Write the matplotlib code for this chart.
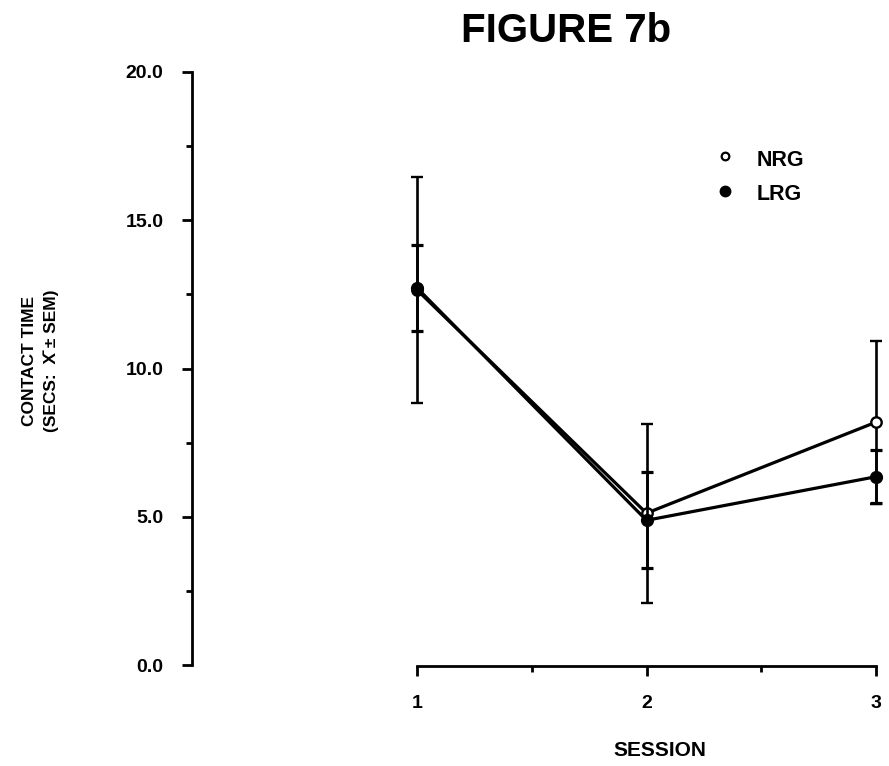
import matplotlib
matplotlib.use("Agg")
import matplotlib.pyplot as plt
from matplotlib.lines import Line2D

# ---- data ----
sessions = [1, 2, 3]
nrg_mean = [12.65, 5.12, 8.19]
nrg_sem = [3.82, 3.02, 2.75]
lrg_mean = [12.72, 4.88, 6.35]
lrg_sem = [1.45, 1.62, 0.90]
x_ticks = [1, 2, 3]
x_minor = [1.5, 2.5]
y_ticks = [0, 5, 10, 15, 20]
y_minor = [2.5, 7.5, 12.5, 17.5]
y_ticklabels = ["0.0", "5.0", "10.0", "15.0", "20.0"]
series_labels = ["NRG", "LRG"]

plt.rcParams['font.family'] = ['Liberation Sans', 'DejaVu Sans']
plt.rcParams['font.weight'] = 'bold'

W, H = 889, 766
fig = plt.figure(figsize=(W / 100, H / 100), dpi=100)

# axes geometry (pixels)
y_spine_x = 192
x1_px, x3_px = 417, 876
y0_px, y20_px = 665, 72
scale = (x3_px - x1_px) / 2.0
lo = 1 - (x1_px - y_spine_x) / scale

ax = fig.add_axes([y_spine_x / W, (H - y0_px) / H,
                   (x3_px - y_spine_x) / W, (y0_px - y20_px) / H])
ax.set_xlim(lo, 3.0)
ax.set_ylim(0, 20)

for s in ['top', 'right']:
    ax.spines[s].set_visible(False)
ax.spines['left'].set_bounds(0, 20)
ax.spines['bottom'].set_bounds(1, 3)
ax.spines['bottom'].set_position(('outward', 1))
for s in ['left', 'bottom']:
    ax.spines[s].set_linewidth(2.0)

ax.set_xticks(x_ticks)
ax.set_xticks(x_minor, minor=True)
ax.set_yticks(y_ticks)
ax.set_yticks(y_minor, minor=True)
ax.set_yticklabels(y_ticklabels)
ax.tick_params(which='major', direction='out', length=7.5, width=2.0,
               labelsize=14, pad=13)
ax.tick_params(which='minor', direction='out', length=4.5, width=2.0)
for lab in ax.get_xticklabels() + ax.get_yticklabels():
    lab.set_fontweight('bold')

# ---- data series ----
eb1 = ax.errorbar(sessions, nrg_mean, yerr=nrg_sem, color='black', lw=2.3,
                  elinewidth=1.9, capsize=4, capthick=2.3, marker='o',
                  markersize=7.5, markerfacecolor='white',
                  markeredgecolor='black', markeredgewidth=1.7, zorder=3)
eb2 = ax.errorbar(sessions, lrg_mean, yerr=lrg_sem, color='black', lw=2.3,
                  elinewidth=1.9, capsize=4, capthick=2.3, marker='o',
                  markersize=8.5, markerfacecolor='black',
                  markeredgecolor='black', zorder=4)
for eb in (eb1, eb2):
    for art in eb.get_children():
        art.set_clip_on(False)

# ---- legend (manual) ----
leg_x, leg_tx = 725, 757
leg_y = [160, 194]
fig.add_artist(Line2D([leg_x / W], [1 - (leg_y[0] - 4) / H], marker='o',
                      markersize=5.5, markerfacecolor='white',
                      markeredgecolor='black', markeredgewidth=1.6,
                      linestyle='none', transform=fig.transFigure))
fig.add_artist(Line2D([leg_x / W], [1 - (leg_y[1] - 3) / H], marker='o',
                      markersize=7.5, markerfacecolor='black',
                      markeredgecolor='black', linestyle='none',
                      transform=fig.transFigure))
for lbl, yy in zip(series_labels, leg_y):
    fig.text(leg_tx / W, 1 - yy / H, lbl, ha='left', va='center',
             fontsize=15.5, fontweight='bold')

# ---- titles / labels ----
fig.text(566 / W, 1 - 31 / H, "FIGURE 7b", ha='center', va='center',
         fontsize=29, fontweight='bold')
fig.text(660 / W, 1 - 750 / H, "SESSION", ha='center', va='center',
         fontsize=15, fontweight='bold')
fig.text(29 / W, 1 - 296 / H, "CONTACT TIME", rotation=90, ha='center',
         va='top', fontsize=12.5, fontweight='bold')
fig.text(51 / W, 1 - 290 / H, "(SECS:  X\u0304 \u00b1 SEM)", rotation=90,
         ha='center', va='top', fontsize=12.5, fontweight='bold')

fig.savefig("out.png", dpi=100)
